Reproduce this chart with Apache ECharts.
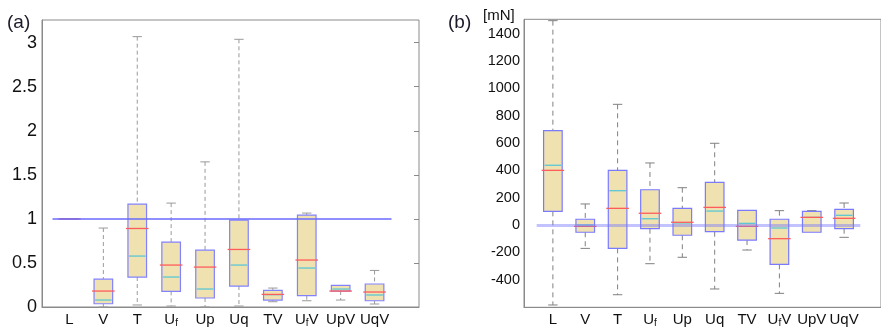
<!DOCTYPE html>
<html><head><meta charset="utf-8">
<script src="https://cdn.jsdelivr.net/npm/echarts@6/dist/echarts.min.js"></script>
<style>html,body{margin:0;padding:0;background:#fff}#c{width:881px;height:331px}</style>
</head><body><div id="c"></div>
<script>
// ---- data ----
const categories = ['L','V','T','Uf','Up','Uq','TV','UfV','UpV','UqV'];
// panel (a): ratio
const aMin  = [1, 0,     0.023, 0.011, 0,     0.011, 0.060, 0.071, 0.079, 0.034];
const aQ1   = [1, 0.037, 0.340, 0.177, 0.102, 0.238, 0.079, 0.128, 0.181, 0.071];
const aMed  = [1, 0.181, 0.891, 0.476, 0.453, 0.653, 0.143, 0.533, 0.181, 0.170];
const aQ3   = [1, 0.317, 1.168, 0.737, 0.646, 0.986, 0.189, 1.043, 0.245, 0.261];
const aMax  = [1, 0.896, 3.068, 1.179, 1.647, 3.038, 0.215, 1.066, 0.245, 0.415];
const aMean = [1, 0.079, 0.578, 0.340, 0.204, 0.476, 0.140, 0.442, 0.204, 0.136];
const aTicks = [0, 0.5, 1, 1.5, 2, 2.5, 3];
const aRef = 1;
// panel (b): [mN]
const bMin  = [-585, -171, -510, -283, -236, -468, -183, -500, -53, -90];
const bQ1   = [100,  -53,  -171, -27,  -75,  -49,  -110, -288, -53, -27];
const bMed  = [400,  -10,  122,  86,   20,   129,  -10,  -100, 56,  49];
const bQ3   = [690,  42,   400,  258,  122,  312,  107,  42,   100, 115];
const bMax  = [1495, 154,  883,  454,  273,  598,  107,  105,  105, 161];
const bMean = [437,  0,    251,  46,   15,   102,  12,   -22,  56,  71];
const bTicks = [-400,-200,0,200,400,600,800,1000,1200,1400];
const bRef = 0;

function rows(mn,q1,md,q3,mx,me){return categories.map((c,i)=>[i,mn[i],q1[i],md[i],q3[i],mx[i],me[i]]);}

const FONT = 'Liberation Sans, Arial, sans-serif';
function makeRender(st){
  return function(params, api){
    const i = api.value(0);
    const p = v => api.coord([i, v]);
    const x = p(0)[0];
    const yMin = p(api.value(1))[1], yQ1 = p(api.value(2))[1], yMed = p(api.value(3))[1],
          yQ3 = p(api.value(4))[1], yMax = p(api.value(5))[1], yMean = p(api.value(6))[1];
    const hw = 9.3, cw = 4.7;
    const wh = {stroke: st.whisk, lineWidth: 1, lineDash: st.dash};
    const cap = {stroke: st.whisk, lineWidth: 1};
    const ch = [];
    if (yMax < yQ3 - 0.5) {
      ch.push({type:'line', shape:{x1:x,y1:yMax,x2:x,y2:yQ3}, style:wh});
      ch.push({type:'line', shape:{x1:x-cw,y1:yMax,x2:x+cw,y2:yMax}, style:cap});
    }
    if (yMin > yQ1 + 0.5) {
      ch.push({type:'line', shape:{x1:x,y1:yQ1,x2:x,y2:yMin}, style:wh});
      ch.push({type:'line', shape:{x1:x-cw,y1:yMin,x2:x+cw,y2:yMin}, style:cap});
    }
    ch.push({type:'rect', shape:{x:x-hw, y:yQ3, width:hw*2, height:Math.max(yQ1-yQ3,0)},
             style:{fill:'#efe2b0', stroke:st.box, lineWidth:1.2}});
    ch.push({type:'line', shape:{x1:x-hw+1,y1:yMean,x2:x+hw-1,y2:yMean}, style:{stroke:'#5cc6d4', lineWidth:1.3}});
    ch.push({type:'line', shape:{x1:x-hw-2,y1:yMed,x2:x+hw+2,y2:yMed}, style:{stroke:'#ff5c5c', lineWidth:1.3}});
    return {type:'group', children: ch};
  };
}

const catLabel = {
  fontFamily: FONT, fontSize: 15, color: '#111', margin: 5, interval: 0,
  formatter: v => v.replace(/^Uf/, 'U{s|f}'),
  rich: { s: {fontFamily: FONT, fontSize: 10, color: '#111', verticalAlign: 'bottom', padding:[6,0,0,0]} }
};

const chart = echarts.init(document.getElementById('c'), null, {renderer:'canvas'});
chart.setOption({
  animation: false,
  backgroundColor: '#fff',
  title: [
    {text:'(a)', left:2, top:8, textStyle:{fontFamily:FONT, fontSize:19, fontWeight:'normal', color:'#1a1a2a'}},
    {text:'(b)', left:443, top:8, textStyle:{fontFamily:FONT, fontSize:19, fontWeight:'normal', color:'#1a1a2a'}},
    {text:'[mN]', left:478, top:3, textStyle:{fontFamily:FONT, fontSize:15, fontWeight:'normal', color:'#111'}}
  ],
  grid: [
    {left:42, top:20, width:377, height:287, show:true, borderColor:'#8a8a8a', borderWidth:1, backgroundColor:'transparent'},
    {left:52.5, top:20, width:339, height:287},
    {left:524, top:19.3, width:364, height:288, show:true, borderColor:'#8a8a8a', borderWidth:1, backgroundColor:'transparent'},
    {left:536.7, top:19.3, width:323.6, height:288}
  ],
  xAxis: [
    {gridIndex:0, type:'value', min:0, max:1, axisLine:{show:true, onZero:false, lineStyle:{color:'#8a8a8a'}}, axisTick:{show:false}, axisLabel:{show:false}, splitLine:{show:false}},
    {gridIndex:1, type:'category', data:categories, axisLine:{show:false}, axisTick:{show:false}, axisLabel:catLabel},
    {gridIndex:2, type:'value', min:0, max:1, axisLine:{show:true, onZero:false, lineStyle:{color:'#8a8a8a'}}, axisTick:{show:false}, axisLabel:{show:false}, splitLine:{show:false}},
    {gridIndex:3, type:'category', data:categories, axisLine:{show:false}, axisTick:{show:false}, axisLabel:catLabel}
  ],
  yAxis: [
    {gridIndex:0, type:'value', min:0, max:3.257, axisLine:{show:true, lineStyle:{color:'#8a8a8a'}}, axisTick:{show:false},
     axisLabel:{customValues:aTicks, formatter: v => String(v), fontFamily:FONT, fontSize:18, color:'#111', margin:5}, splitLine:{show:false}},
    {gridIndex:0, type:'value', position:'right', min:0, max:3.257, axisLine:{show:false},
     axisTick:{show:true, inside:true, length:5, customValues:aTicks, lineStyle:{color:'#8a8a8a'}}, axisLabel:{show:false}, splitLine:{show:false}},
    {gridIndex:1, type:'value', min:0, max:3.257, show:false},
    {gridIndex:2, type:'value', min:-602, max:1505, axisLine:{show:true, lineStyle:{color:'#8a8a8a'}}, axisTick:{show:false},
     axisLabel:{customValues:bTicks, formatter: v => String(v), fontFamily:FONT, fontSize:14.5, color:'#111', margin:4}, splitLine:{show:false}},
    {gridIndex:3, type:'value', min:-602, max:1505, show:false}
  ],
  series: [
    {type:'line', xAxisIndex:1, yAxisIndex:2, data:[], z:5, color:'#6a6aff',
     markLine:{silent:true, symbol:'none', label:{show:false}, lineStyle:{color:'#6a6aff', width:1.5, type:'solid', opacity:1}, data:[{yAxis:aRef}]}},
    {type:'custom', xAxisIndex:1, yAxisIndex:2, renderItem:makeRender({whisk:'#9a9a9a', dash:[4,3], box:'#8282ff'}),
     data: rows(aMin,aQ1,aMed,aQ3,aMax,aMean), encode:{x:0, y:[1,2,3,4,5,6]}, z:3},
    {type:'custom', xAxisIndex:3, yAxisIndex:4, renderItem:makeRender({whisk:'#808080', dash:[5,4], box:'#7a7aff'}),
     data: rows(bMin,bQ1,bMed,bQ3,bMax,bMean), encode:{x:0, y:[1,2,3,4,5,6]}, z:3,
     markLine:{silent:true, symbol:'none', label:{show:false}, lineStyle:{color:'rgba(120,120,255,0.45)', width:3, type:'solid'}, data:[{yAxis:bRef}]}}
  ]
});
</script></body></html>
